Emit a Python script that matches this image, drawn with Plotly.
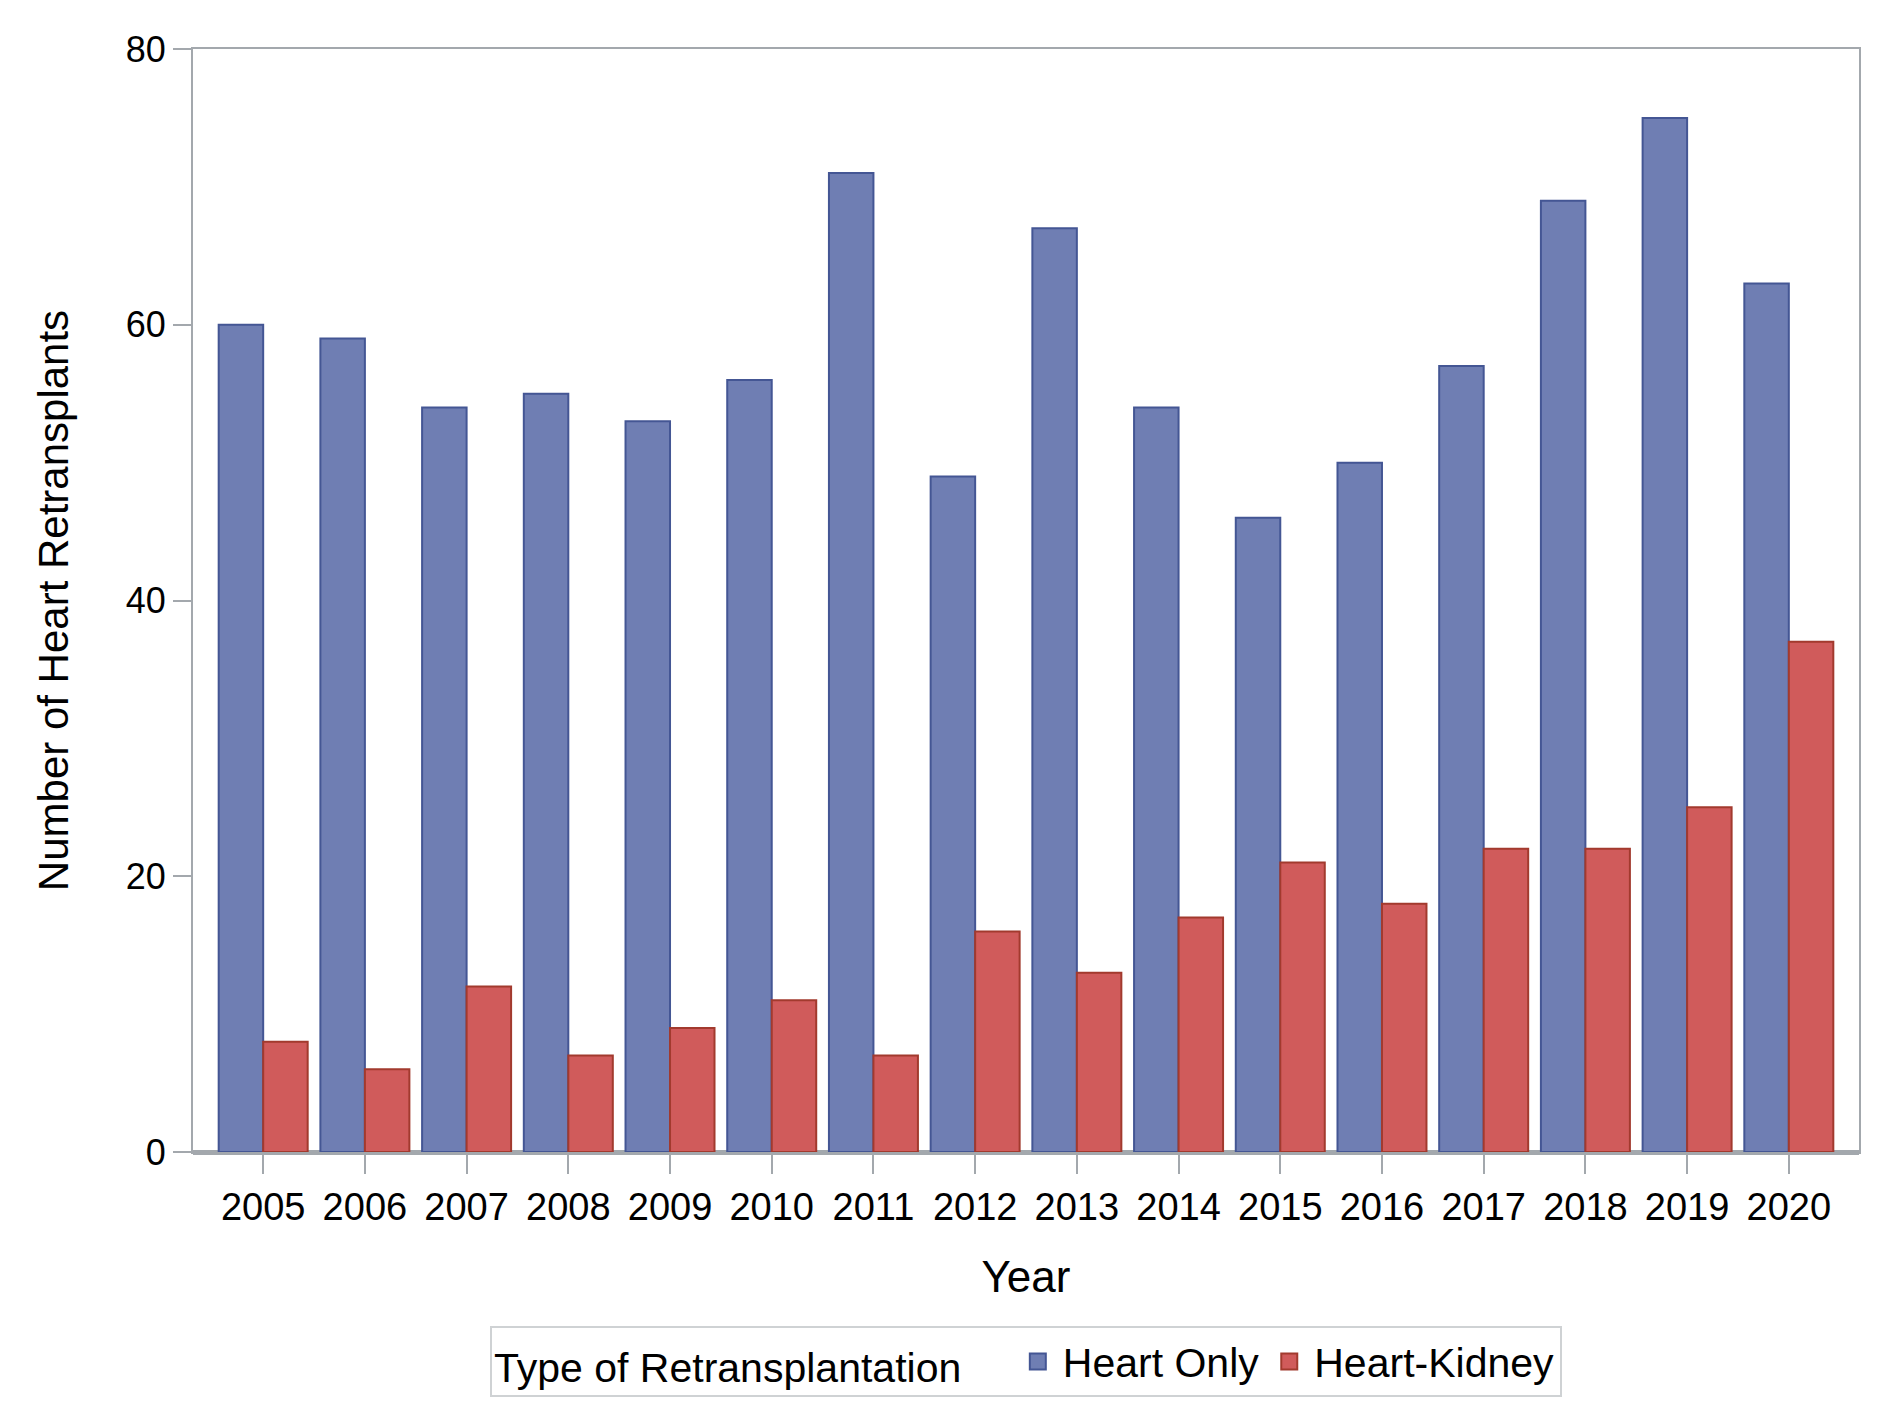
import plotly.graph_objects as go

years = [str(y) for y in range(2005, 2021)]
heart_only = [60, 59, 54, 55, 53, 56, 71, 49, 67, 54, 46, 50, 57, 69, 75, 63]
heart_kidney = [8, 6, 12, 7, 9, 11, 7, 16, 13, 17, 21, 18, 22, 22, 25, 37]
series_names = ["Heart Only", "Heart-Kidney"]
fills = ["#6F7EB3", "#D05B5B"]
edges = ["#445694", "#A23A2E"]

FONT = "Liberation Sans, Arial, sans-serif"
AX = "#a3a8ad"

fig = go.Figure()
for vals, nm, fc, ec in zip([heart_only, heart_kidney], series_names, fills, edges):
    fig.add_trace(go.Bar(x=years, y=vals, name=nm, showlegend=False, legendgroup=nm,
                         marker=dict(color=fc, line=dict(color=ec, width=2))))
# legend entries with larger square swatches
for nm, fc, ec in zip(series_names, fills, edges):
    fig.add_trace(go.Scatter(x=[None], y=[None], mode="markers", name=nm, legendgroup=nm,
                             marker=dict(symbol="square", size=30, color=fc,
                                         line=dict(color=ec, width=2))))

fig.update_layout(
    width=1875, height=1401,
    margin=dict(l=185, r=24, t=41, b=249),
    paper_bgcolor="white", plot_bgcolor="white",
    barmode="group", bargap=0.125, bargroupgap=0,
    font=dict(family=FONT, size=36, color="black"),
    showlegend=True,
    legend=dict(orientation="h", x=0.5, xanchor="center", y=-0.158, yanchor="top",
                bordercolor="#cfd2d4", borderwidth=2, itemsizing="trace",
                font=dict(size=41),
                title=dict(text="Type of Retransplantation    ", side="left", font=dict(size=41)),
                itemwidth=40),
    xaxis=dict(type="category", range=[-0.69, 15.69],
               showline=True, linecolor=AX, linewidth=2, mirror=True,
               ticks="outside", ticklen=20, tickcolor=AX, tickwidth=2,
               tickfont=dict(size=38),
               title=dict(text="Year", font=dict(size=44), standoff=35)),
    yaxis=dict(range=[0, 80], tickvals=[0, 20, 40, 60, 80],
               showline=True, linecolor=AX, linewidth=2, mirror=True,
               showgrid=False, zeroline=True, zerolinecolor=AX, zerolinewidth=5,
               ticks="outside", ticklen=18, tickcolor=AX, tickwidth=2,
               tickfont=dict(size=36),
               title=dict(text="Number of Heart Retransplants", font=dict(size=42), standoff=44)),
)

fig.write_html("out.html")
